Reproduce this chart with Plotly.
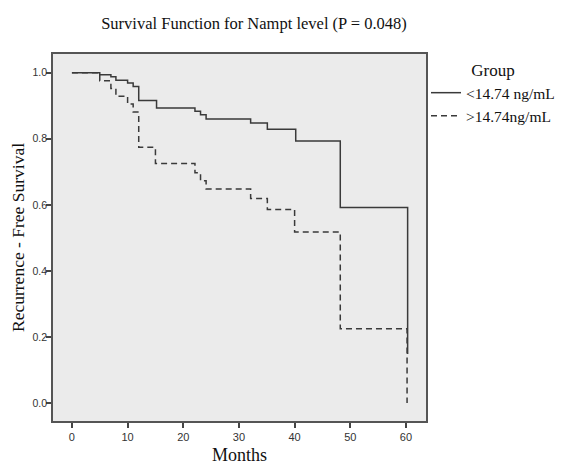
import plotly.graph_objects as go

# Data (Kaplan-Meier steps)
months_low = [0, 5.0, 7.0, 7.9, 10.0, 11.0, 12.0, 15.2, 22.1, 23.1, 24.1, 32.1, 35.1, 40.2, 48.2, 60.3]
surv_low = [1.0, 0.994, 0.988, 0.977, 0.969, 0.958, 0.916, 0.893, 0.883, 0.873, 0.860, 0.848, 0.829, 0.793, 0.592, 0.148]

months_high = [0, 5.0, 7.0, 7.9, 10.0, 11.0, 12.0, 15.0, 22.1, 23.1, 24.1, 32.1, 35.1, 40.0, 48.2, 60.2]
surv_high = [1.0, 0.976, 0.952, 0.929, 0.905, 0.881, 0.774, 0.725, 0.697, 0.673, 0.648, 0.619, 0.586, 0.518, 0.225, 0.0]

group_names = ["<14.74 ng/mL", ">14.74ng/mL"]
x_ticks = [0, 10, 20, 30, 40, 50, 60]
y_ticks = [0.0, 0.2, 0.4, 0.6, 0.8, 1.0]

LINE = "#3a3a3a"
SERIF = "Liberation Serif, Times New Roman, serif"
SANS = "Liberation Sans, Arial, sans-serif"

# page body has an 8px margin, so figure coords = page coords - 8
fig = go.Figure()
fig.add_trace(go.Scatter(x=months_low, y=surv_low, mode="lines", name=group_names[0],
                         line=dict(color=LINE, width=1.5, shape="hv")))
fig.add_trace(go.Scatter(x=months_high, y=surv_high, mode="lines", name=group_names[1],
                         line=dict(color=LINE, width=1.5, shape="hv", dash="6px,4px")))

fig.update_layout(
    width=566, height=467,
    margin=dict(l=45, r=148, t=46, b=54),
    paper_bgcolor="white",
    plot_bgcolor="#ebebeb",
    title=dict(text="Survival Function for Nampt level (P = 0.048)",
               x=246 / 566, xanchor="center", y=1 - 15 / 467, yanchor="middle",
               font=dict(family=SERIF, size=16.5, color="#111")),
    showlegend=True,
    legend=dict(x=1.0, xanchor="left", y=1.0, yanchor="top",
                bgcolor="rgba(0,0,0,0)",
                title=dict(text="Group", side="top center", font=dict(family=SERIF, size=17, color="#111")),
                font=dict(family=SERIF, size=15.5, color="#111"),
                itemwidth=30, tracegroupgap=0),
    xaxis=dict(range=[-3.4, 63.6], tickvals=x_ticks, ticks="outside", ticklen=5,
               tickcolor="#444", tickwidth=1.5, automargin=False,
               showline=True, linecolor="#555", linewidth=1.5, mirror=True,
               showgrid=False, zeroline=False,
               tickfont=dict(family=SANS, size=11, color="#333"),
               title=dict(text="Months", standoff=6, font=dict(family=SERIF, size=18, color="#111"))),
    yaxis=dict(range=[-0.0545, 1.0567], tickvals=y_ticks, tickformat=".1f", ticks="outside", ticklen=5,
               tickcolor="#444", tickwidth=1.5, automargin=False, ticklabelstandoff=-3,
               showline=True, linecolor="#555", linewidth=1.5, mirror=True,
               showgrid=False, zeroline=False,
               tickfont=dict(family=SANS, size=10.5, color="#333"),
               title=dict(text="Recurrence - Free Survival", standoff=9,
                          font=dict(family=SERIF, size=17.5, color="#111"))),
)

fig.write_html("out.html")
